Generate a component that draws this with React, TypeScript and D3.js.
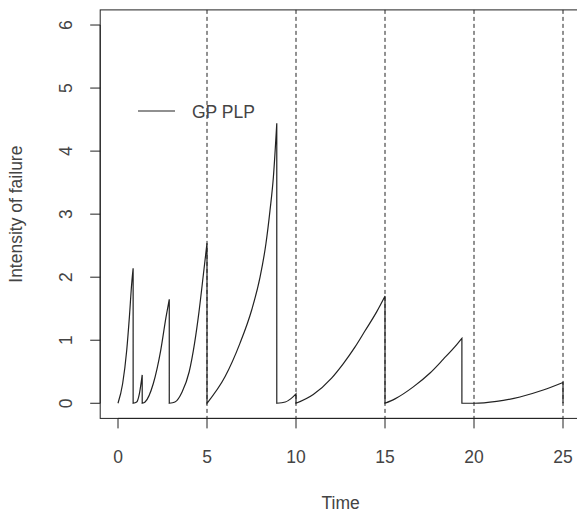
import React from 'react'
import * as d3 from 'd3'

// Intensity of failure for a GP PLP model; each segment starts right after a repair (intensity reset)
const seg1: [number, number][] = [[0, 0], [0.26, 0.31], [0.49, 0.84], [0.64, 1.37], [0.77, 1.9], [0.85, 2.14]]
const seg2: [number, number][] = [[0.85, 0], [1.05, 0.02], [1.2, 0.15], [1.36, 0.45]]
const seg3: [number, number][] = [[1.36, 0], [1.52, 0.02], [1.98, 0.31], [2.4, 0.84], [2.7, 1.37], [2.88, 1.65]]
const seg4: [number, number][] = [[2.88, 0], [3.2, 0.02], [3.6, 0.18], [4.0, 0.5], [4.3, 0.95], [4.55, 1.45], [4.8, 2.05], [5, 2.54]]
const seg5: [number, number][] = [[5, 0], [6.01, 0.42], [6.85, 0.95], [7.51, 1.48], [7.98, 2.0], [8.31, 2.53], [8.54, 3.06], [8.73, 3.59], [8.92, 4.44]]
const seg6: [number, number][] = [[8.92, 0], [9.4, 0.02], [9.7, 0.07], [10, 0.15]]
const seg7: [number, number][] = [[10, 0], [10.97, 0.14], [12.0, 0.4], [12.66, 0.63], [13.31, 0.89], [13.88, 1.15], [14.53, 1.45], [15, 1.7]]
const seg8: [number, number][] = [[15, 0], [15.56, 0.07], [16.59, 0.26], [17.53, 0.48], [18.28, 0.7], [19.03, 0.93], [19.32, 1.03]]
const seg9: [number, number][] = [[19.32, 0], [20, 0], [21.27, 0.03], [22.58, 0.1], [23.89, 0.21], [25, 0.33]]
const endPoint: [number, number] = [25, 0]

const segments = [seg1, seg2, seg3, seg4, seg5, seg6, seg7, seg8, seg9]
const pmTimes = [5, 10, 15, 20, 25]
const xTicks = [0, 5, 10, 15, 20, 25]
const yTicks = [0, 1, 2, 3, 4, 5, 6]
const legendLabel = 'GP PLP'

const W = 577
const H = 514
const font = '"Liberation Sans", Arial, sans-serif'
const fontSize = 17.5
const textColor = '#444'
const lineColor = '#222'

export default function App() {
  // R style usr extends the data range by 4% on each side
  const x = d3.scaleLinear().domain([-1, 26]).range([100.2, 580.8])
  const y = d3.scaleLinear().domain([-0.24, 6.24]).range([418.4, 9.9])
  const [left, right] = x.range()
  const [bottom, top] = y.range()

  const lineGen = d3
    .line<[number, number]>()
    .x((d) => x(d[0]))
    .y((d) => y(d[1]))
    .curve(d3.curveMonotoneX)

  // join segments so the drops after each repair are vertical
  const pathD =
    segments
      .map((s, i) => {
        const p = lineGen(s) || ''
        return i === 0 ? p : 'L' + p.slice(1)
      })
      .join('') + `L${x(endPoint[0])},${y(endPoint[1])}`

  return (
    <svg
      width={W}
      height={H}
      style={{ position: 'absolute', left: 0, top: 0, background: '#fff' }}
      fontFamily={font}
    >
      <rect x={0} y={0} width={W} height={H} fill="#fff" />

      {/* vertical dashed lines at preventive maintenance times */}
      {pmTimes.map((t) => (
        <line
          key={'pm' + t}
          x1={x(t)}
          x2={x(t)}
          y1={top}
          y2={bottom}
          stroke={lineColor}
          strokeWidth={1}
          strokeDasharray="4,3"
        />
      ))}

      <path d={pathD} fill="none" stroke={lineColor} strokeWidth={1.2} />

      {/* plot box */}
      <rect
        x={left}
        y={top}
        width={right - left}
        height={bottom - top}
        fill="none"
        stroke={lineColor}
        strokeWidth={1}
      />

      {/* x axis */}
      <line x1={x(xTicks[0])} x2={x(xTicks[xTicks.length - 1])} y1={bottom} y2={bottom} stroke={lineColor} />
      {xTicks.map((t) => (
        <g key={'xt' + t}>
          <line x1={x(t)} x2={x(t)} y1={bottom} y2={bottom + 10} stroke={lineColor} />
          <text x={x(t)} y={463} textAnchor="middle" fontSize={fontSize} fill={textColor}>
            {t}
          </text>
        </g>
      ))}
      <text x={(left + x(25) + 18) / 2} y={509} textAnchor="middle" fontSize={fontSize} fill={textColor}>
        Time
      </text>

      {/* y axis */}
      <line x1={left} x2={left} y1={y(yTicks[0])} y2={y(yTicks[yTicks.length - 1])} stroke={lineColor} />
      {yTicks.map((v) => (
        <g key={'yt' + v}>
          <line x1={left - 10} x2={left} y1={y(v)} y2={y(v)} stroke={lineColor} />
          <text
            transform={`translate(72,${y(v)}) rotate(-90)`}
            textAnchor="middle"
            fontSize={fontSize}
            fill={textColor}
          >
            {v}
          </text>
        </g>
      ))}
      <text
        transform={`translate(22,${(top + bottom) / 2}) rotate(-90)`}
        textAnchor="middle"
        fontSize={fontSize}
        fill={textColor}
      >
        Intensity of failure
      </text>

      {/* legend */}
      <line x1={138} x2={175} y1={111} y2={111} stroke={lineColor} strokeWidth={1.2} />
      <text x={192} y={117.5} fontSize={fontSize} fill={textColor}>
        {legendLabel}
      </text>
    </svg>
  )
}
